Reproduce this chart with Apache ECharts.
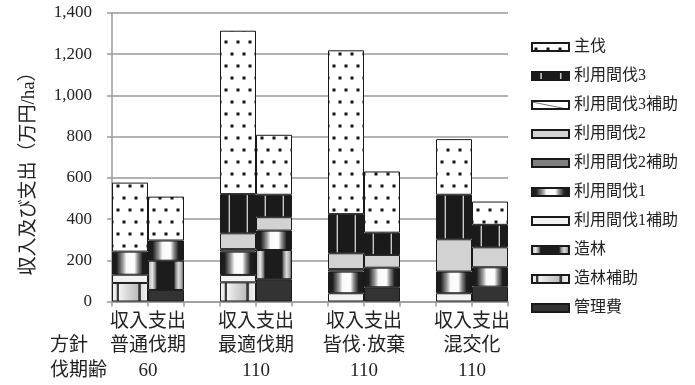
<!DOCTYPE html>
<html>
<head>
<meta charset="utf-8">
<script src="https://cdn.jsdelivr.net/npm/echarts@6/dist/echarts.min.js"></script>
<style>
  html, body { margin: 0; padding: 0; background: #fff; }
  #chart { width: 695px; height: 385px; }
</style>
</head>
<body>
<div id="chart"></div>
<script>
// Slots along the x axis: income/expense bar pair per policy, a spacer between pairs
const slots = ['普通伐期-収入', '普通伐期-支出', 'sp1',
               '最適伐期-収入', '最適伐期-支出', 'sp2',
               '皆伐·放棄-収入', '皆伐·放棄-支出', 'sp3',
               '混交化-収入', '混交化-支出'];
const policies = ['普通伐期', '最適伐期', '皆伐·放棄', '混交化'];
const ages = ['60', '110', '110', '110'];
const pairLabel = '収入支出';
const rowHeads = ['方針', '伐期齢'];
const yTicks = [0, 200, 400, 600, 800, 1000, 1200, 1400];

// 万円/ha per component, bottom of the stack first ('-' = none)
const kanrihi      = ['-', 56, '-', '-', 108, '-', '-', 69, '-', '-', 72];
const zourinHojo   = [90, '-', '-', 93, '-', '-', '-', '-', '-', '-', '-'];
const zourin       = ['-', 142, '-', '-', 142, '-', '-', '-', '-', '-', '-'];
const kanbatsu1H   = [40, '-', '-', 36, '-', '-', 40, '-', '-', 40, '-'];
const kanbatsu1    = [112, 98, '-', 113, 94, '-', 105, 95, '-', 105, 94];
const kanbatsu2H   = ['-', '-', '-', 12, '-', '-', 12, '-', '-', '-', '-'];
const kanbatsu2    = ['-', '-', '-', 77, 65, '-', 77, 62, '-', 157, 97];
const kanbatsu3H   = ['-', '-', '-', '-', '-', '-', '-', '-', '-', '-', '-'];
const kanbatsu3    = ['-', '-', '-', 190, 109, '-', 190, 108, '-', 216, 109];
const shubatsu     = [335, 213, '-', 793, 291, '-', 795, 297, '-', 270, 113];

const FONT = "'Liberation Serif', 'Noto Sans CJK JP', serif";
const INK = '#1a1a1a';

function hGrad(stops) {
  return new echarts.graphic.LinearGradient(0, 0, 1, 0,
    stops.map(s => ({ offset: s[0], color: s[1] })));
}

// white field with staggered square dots
function dotPattern() {
  const c = document.createElement('canvas');
  c.width = 36; c.height = 24;
  const g = c.getContext('2d');
  g.fillStyle = '#fff'; g.fillRect(0, 0, 36, 24);
  g.fillStyle = '#111';
  [10, 22, 34].forEach(x => g.fillRect(x - 1.5, 16.5, 3, 3));
  [4, 16, 28].forEach(x => g.fillRect(x - 1.5, 4.5, 3, 3));
  return { image: c, repeat: 'repeat' };
}

// white field with sparse diagonal strokes
function diagPattern() {
  const c = document.createElement('canvas');
  c.width = 40; c.height = 10;
  const g = c.getContext('2d');
  g.fillStyle = '#fff'; g.fillRect(0, 0, 40, 10);
  g.strokeStyle = '#777'; g.lineWidth = 1;
  g.beginPath(); g.moveTo(0, 1); g.lineTo(40, 9); g.stroke();
  return { image: c, repeat: 'repeat' };
}

const fills = {
  '管理費': '#333333',
  '造林補助': hGrad([[0, '#f6f6f6'], [0.12, '#e8e8e8'], [0.14, '#3a3a3a'], [0.18, '#3a3a3a'],
                    [0.2, '#f2f2f2'], [0.45, '#d6d6d6'], [0.72, '#bdbdbd'], [0.74, '#3a3a3a'],
                    [0.79, '#3a3a3a'], [0.81, '#e0e0e0'], [1, '#f4f4f4']]),
  '造林': hGrad([[0, '#3a3a3a'], [0.04, '#bcbcbc'], [0.12, '#e8e8e8'], [0.2, '#8a8a8a'],
                 [0.25, '#1c1c1c'], [0.72, '#1c1c1c'], [0.77, '#8a8a8a'], [0.85, '#dcdcdc'],
                 [0.93, '#aaaaaa'], [1, '#333333']]),
  '利用間伐1補助': '#f3f3f3',
  '利用間伐1': hGrad([[0, '#1a1a1a'], [0.13, '#1e1e1e'], [0.3, '#9a9a9a'], [0.4, '#f8f8f8'],
                    [0.62, '#ffffff'], [0.72, '#8a8a8a'], [0.85, '#1e1e1e'], [1, '#1a1a1a']]),
  '利用間伐2補助': '#7f7f7f',
  '利用間伐2': '#d2d2d2',
  '利用間伐3補助': diagPattern(),
  '利用間伐3': hGrad([[0, '#1a1a1a'], [0.23, '#1a1a1a'], [0.24, '#8a8a8a'], [0.26, '#d8d8d8'],
                    [0.28, '#8a8a8a'], [0.29, '#1a1a1a'], [0.73, '#1a1a1a'], [0.74, '#8a8a8a'],
                    [0.76, '#d8d8d8'], [0.78, '#8a8a8a'], [0.79, '#1a1a1a'], [1, '#1a1a1a']]),
  '主伐': dotPattern()
};

const stackOrder = [
  ['管理費', kanrihi], ['造林補助', zourinHojo], ['造林', zourin],
  ['利用間伐1補助', kanbatsu1H], ['利用間伐1', kanbatsu1],
  ['利用間伐2補助', kanbatsu2H], ['利用間伐2', kanbatsu2],
  ['利用間伐3補助', kanbatsu3H], ['利用間伐3', kanbatsu3],
  ['主伐', shubatsu]
];

const series = stackOrder.map(([name, data]) => ({
  name: name,
  type: 'bar',
  stack: 'total',
  data: data,
  barCategoryGap: '0%',
  itemStyle: { color: fills[name], borderColor: INK, borderWidth: 1 }
}));

const chart = echarts.init(document.getElementById('chart'), null, { renderer: 'canvas' });
chart.setOption({
  animation: false,
  backgroundColor: '#fff',
  grid: { left: 112, right: 187, top: 13, bottom: 83.5 },
  legend: {
    orient: 'vertical',
    left: 526,
    top: 34,
    icon: 'rect',
    itemWidth: 37,
    itemHeight: 8,
    itemGap: 13,
    selectedMode: false,
    data: stackOrder.map(s => s[0]).reverse(),
    textStyle: { fontSize: 16, fontFamily: FONT, color: '#222' }
  },
  xAxis: {
    type: 'category',
    data: slots,
    boundaryGap: true,
    axisLine: { lineStyle: { color: '#9a9a9a', width: 1.5 } },
    axisTick: { show: true, interval: 0, length: 5, lineStyle: { color: '#9a9a9a', width: 1.5 } },
    axisLabel: {
      interval: 0,
      margin: 8,
      padding: [0, 0, 0, 36],
      fontSize: 19,
      lineHeight: 24.5,
      fontFamily: FONT,
      color: '#222',
      formatter: (v, i) => i % 3 === 0
        ? pairLabel + '\n' + policies[i / 3] + '\n' + ages[i / 3]
        : ''
    }
  },
  yAxis: {
    type: 'value',
    min: yTicks[0],
    max: yTicks[yTicks.length - 1],
    interval: 200,
    axisLine: { show: true, lineStyle: { color: '#9a9a9a', width: 1.5 } },
    axisTick: { show: true, length: 5, lineStyle: { color: '#9a9a9a', width: 1.5 } },
    splitLine: { lineStyle: { color: '#9a9a9a', width: 1.5 } },
    axisLabel: {
      margin: 20,
      fontSize: 17,
      fontFamily: FONT,
      color: '#222',
      formatter: v => v.toLocaleString('en-US')
    }
  },
  graphic: [
    {
      type: 'text', x: 29, y: 169, rotation: Math.PI / 2,
      style: { text: '収入及び支出（万円/ha）', align: 'center', verticalAlign: 'middle',
               font: '19px ' + FONT, fill: '#222' }
    },
    {
      type: 'text', x: 50, y: 346.5,
      style: { text: rowHeads[0], align: 'left', verticalAlign: 'middle',
               font: '19px ' + FONT, fill: '#222' }
    },
    {
      type: 'text', x: 50, y: 371,
      style: { text: rowHeads[1], align: 'left', verticalAlign: 'middle',
               font: '19px ' + FONT, fill: '#222' }
    }
  ],
  series: series
});
</script>
</body>
</html>
